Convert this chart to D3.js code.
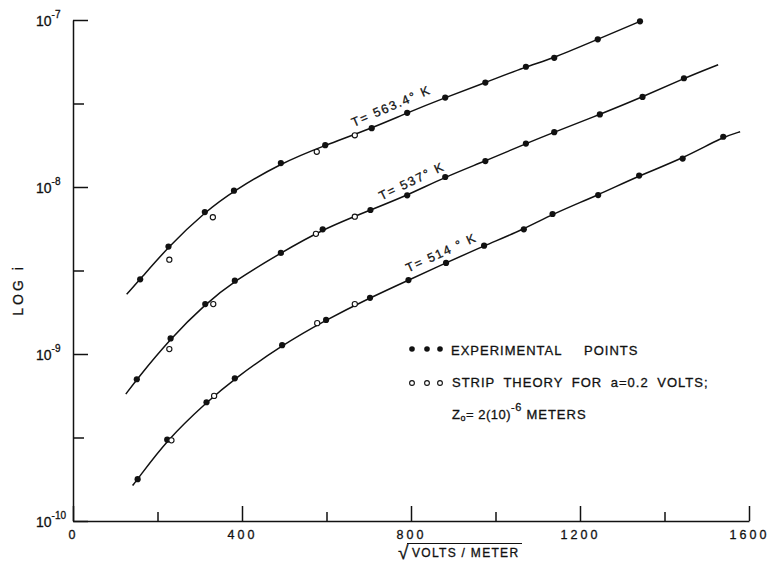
<!DOCTYPE html>
<html>
<head>
<meta charset="utf-8">
<script src="https://cdn.jsdelivr.net/npm/d3@7"></script>
<style>
body { margin: 0; background: #fff; }
svg { font-family: "Liberation Sans", Arial, sans-serif; fill: #111; }
svg text { stroke: #111; stroke-width: 0.3px; }
.line { fill: none; stroke: #111; stroke-width: 1.5; }
.axis path, .axis line { stroke: #111; stroke-width: 1.5; }
.axis text { font-size: 12.5px; letter-spacing: 3px; fill: #111; }
</style>
</head>
<body>
<div id="chart"></div>
<script>
// values: [sqrt(volts/meter), current]
var exp563 = [[159, 2.80e-9], [226, 4.40e-9], [312, 7.08e-9], [381, 9.5e-9], [492, 1.39e-8],
    [597, 1.78e-8], [707, 2.25e-8], [791, 2.78e-8], [881, 3.43e-8], [976, 4.22e-8],
    [1072, 5.25e-8], [1139, 5.94e-8], [1242, 7.66e-8], [1342, 9.82e-8]];
var theory563 = [[228, 3.67e-9], [331, 6.59e-9], [577, 1.625e-8], [667, 2.04e-8]];

var exp537 = [[151, 7.06e-10], [231, 1.24e-9], [313, 1.99e-9], [383, 2.75e-9], [492, 4.03e-9],
    [591, 5.58e-9], [704, 7.28e-9], [791, 8.91e-9], [881, 1.148e-8], [976, 1.43e-8],
    [1072, 1.82e-8], [1139, 2.13e-8], [1247, 2.72e-8], [1348, 3.46e-8], [1446, 4.48e-8]];
var theory537 = [[228, 1.07e-9], [332, 1.99e-9], [575, 5.24e-9], [667, 6.64e-9]];

var exp514 = [[153, 1.78e-10], [223, 3.07e-10], [316, 5.14e-10], [383, 7.15e-10], [495, 1.13e-9],
    [599, 1.60e-9], [703, 2.17e-9], [794, 2.77e-9], [883, 3.51e-9], [973, 4.45e-9],
    [1067, 5.58e-9], [1135, 6.89e-9], [1243, 8.95e-9], [1340, 1.17e-8], [1443, 1.48e-8],
    [1539, 2.0e-8]];
var theory514 = [[233, 3.04e-10], [334, 5.61e-10], [578, 1.53e-9], [667, 1.99e-9]];

// where the drawn curves start and stop beyond the points
var curveEnds563 = [[127, 2.28e-9], null];
var curveEnds537 = [[125, 5.75e-10], [1527, 5.4e-8]];
var curveEnds514 = [[141, 1.63e-10], [1579, 2.14e-8]];

var curveLabels = ["T= 563.4° K", "T= 537° K", "T= 514 ° K"];
var labelAnchors = [[757, 2.89e-8], [806, 1.03e-8], [876, 3.83e-9]];

var xMajorTicks = [0, 400, 800, 1200, 1600];
var xMinorTicks = [200, 600, 1000, 1400];
var yMajorTicks = [1e-10, 1e-9, 1e-8, 1e-7];
var yExponents = ["-10", "-9", "-8", "-7"];
var yMinorTicks = [Math.pow(10, -9.5), Math.pow(10, -8.5), Math.pow(10, -7.5)];

// set the dimensions and margins of the graph
var margin = {top: 20, right: 24, bottom: 44, left: 73},
    width = 773 - margin.left - margin.right,
    height = 565 - margin.top - margin.bottom;

var x = d3.scaleLinear().domain([0, 1600]).range([0, width]);
var y = d3.scaleLog().domain([1e-10, 1e-7]).range([height, 0]);

var svg = d3.select("#chart").append("svg")
    .attr("width", width + margin.left + margin.right)
    .attr("height", height + margin.top + margin.bottom)
    .append("g")
    .attr("transform", "translate(" + margin.left + "," + margin.top + ")");

// x axis, ticks pointing up into the plot
svg.append("g")
    .attr("class", "axis")
    .attr("transform", "translate(0," + height + ")")
    .call(d3.axisBottom(x).tickValues(xMajorTicks).tickSize(-15).tickSizeOuter(0).tickPadding(9)
        .tickFormat(d3.format("d")));
svg.append("g")
    .attr("class", "axis")
    .attr("transform", "translate(0," + height + ")")
    .call(d3.axisBottom(x).tickValues(xMinorTicks).tickSize(-9).tickSizeOuter(0).tickFormat(""))
    .select(".domain").remove();

// y axis, ticks pointing right
svg.append("g")
    .attr("class", "axis")
    .call(d3.axisLeft(y).tickValues(yMajorTicks).tickSize(-15).tickSizeOuter(0).tickFormat(""));
svg.append("g")
    .attr("class", "axis")
    .call(d3.axisLeft(y).tickValues(yMinorTicks).tickSize(-11).tickSizeOuter(0).tickFormat(""))
    .select(".domain").remove();

// power-of-ten labels
var yl = svg.selectAll(".ylab").data(yMajorTicks)
    .enter().append("text")
    .attr("class", "ylab")
    .attr("x", -37)
    .attr("y", function (d) { return y(d) + 6; })
    .style("font-size", "14px");
yl.append("tspan").text("10");
yl.append("tspan")
    .attr("dy", -8)
    .style("font-size", "10px")
    .text(function (d, i) { return yExponents[i]; });

// axis titles
svg.append("text")
    .attr("text-anchor", "middle")
    .attr("transform", "translate(" + (-50) + "," + 270 + ")rotate(-90)")
    .style("font-size", "14px")
    .style("letter-spacing", "3px")
    .text("LOG i");

var xt = svg.append("g").attr("transform", "translate(" + (x(800) - 13) + "," + (height + 36) + ")");
xt.append("text")
    .attr("x", 0).attr("y", 2)
    .style("font-size", "19px")
    .text("√");
xt.append("line")
    .attr("x1", 9).attr("x2", 124)
    .attr("y1", -13.5).attr("y2", -13.5)
    .style("stroke", "#111").style("stroke-width", 1.2);
xt.append("text")
    .attr("x", 14).attr("y", 0)
    .style("font-size", "12px")
    .style("letter-spacing", "1.3px")
    .text("VOLTS / METER");

// fitted curves
var valueline = d3.line()
    .x(function (d) { return x(d[0]); })
    .y(function (d) { return y(d[1]); })
    .curve(d3.curveBasis);

var series = [
    {exp: exp563, theory: theory563, ends: curveEnds563},
    {exp: exp537, theory: theory537, ends: curveEnds537},
    {exp: exp514, theory: theory514, ends: curveEnds514}
];

series.forEach(function (s, i) {
    var pts = [];
    if (s.ends[0]) pts.push(s.ends[0]);
    pts = pts.concat(s.exp);
    if (s.ends[1]) pts.push(s.ends[1]);

    svg.append("path")
        .data([pts])
        .attr("class", "line")
        .attr("d", valueline);

    svg.append("g").selectAll("circle").data(s.exp)
        .enter().append("circle")
        .attr("cx", function (d) { return x(d[0]); })
        .attr("cy", function (d) { return y(d[1]); })
        .attr("r", 3.1)
        .style("fill", "#111");

    svg.append("g").selectAll("circle").data(s.theory)
        .enter().append("circle")
        .attr("cx", function (d) { return x(d[0]); })
        .attr("cy", function (d) { return y(d[1]); })
        .attr("r", 2.6)
        .style("fill", "#fff")
        .style("stroke", "#111")
        .style("stroke-width", 1.1);

    // rotate label with the local slope of the curve
    var a = labelAnchors[i];
    var k = d3.bisector(function (d) { return d[0]; }).left(s.exp, a[0]);
    var p0 = s.exp[Math.max(k - 1, 0)], p1 = s.exp[Math.min(k, s.exp.length - 1)];
    var ang = Math.atan2(y(p1[1]) - y(p0[1]), x(p1[0]) - x(p0[0])) * 180 / Math.PI;
    svg.append("text")
        .attr("text-anchor", "middle")
        .attr("transform", "translate(" + x(a[0]) + "," + y(a[1]) + ")rotate(" + ang + ")")
        .style("font-size", "12.5px")
        .style("letter-spacing", "1.7px")
        .text(curveLabels[i]);
});

// legend
var lg = svg.append("g").attr("transform", "translate(" + (412 - margin.left) + "," + (349 - margin.top) + ")");
[0, 15, 28].forEach(function (dx) {
    lg.append("circle").attr("cx", dx).attr("cy", 0).attr("r", 2.8).style("fill", "#111");
    lg.append("circle").attr("cx", dx).attr("cy", 34).attr("r", 2.4)
        .style("fill", "#fff").style("stroke", "#111").style("stroke-width", 1.1);
});
var t1 = lg.append("text").attr("x", 39).attr("y", 6)
    .style("font-size", "13px").style("letter-spacing", "1px");
t1.append("tspan").text("EXPERIMENTAL");
t1.append("tspan").attr("x", 172).text("POINTS");

lg.append("text").attr("x", 40).attr("y", 38)
    .style("font-size", "13px").style("letter-spacing", "1px").style("word-spacing", "4px")
    .text("STRIP THEORY FOR a=0.2 VOLTS;");

var t3 = lg.append("text").attr("x", 40).attr("y", 70)
    .style("font-size", "13px").style("letter-spacing", "0.5px");
t3.append("tspan").text("Z");
t3.append("tspan").attr("dy", 2).style("font-size", "9px").text("o");
t3.append("tspan").attr("dy", -2).text("= 2(10)");
t3.append("tspan").attr("dy", -8).style("font-size", "11px").text("-6");
t3.append("tspan").attr("dy", 8).style("letter-spacing", "1px").text(" METERS");
</script>
</body>
</html>
